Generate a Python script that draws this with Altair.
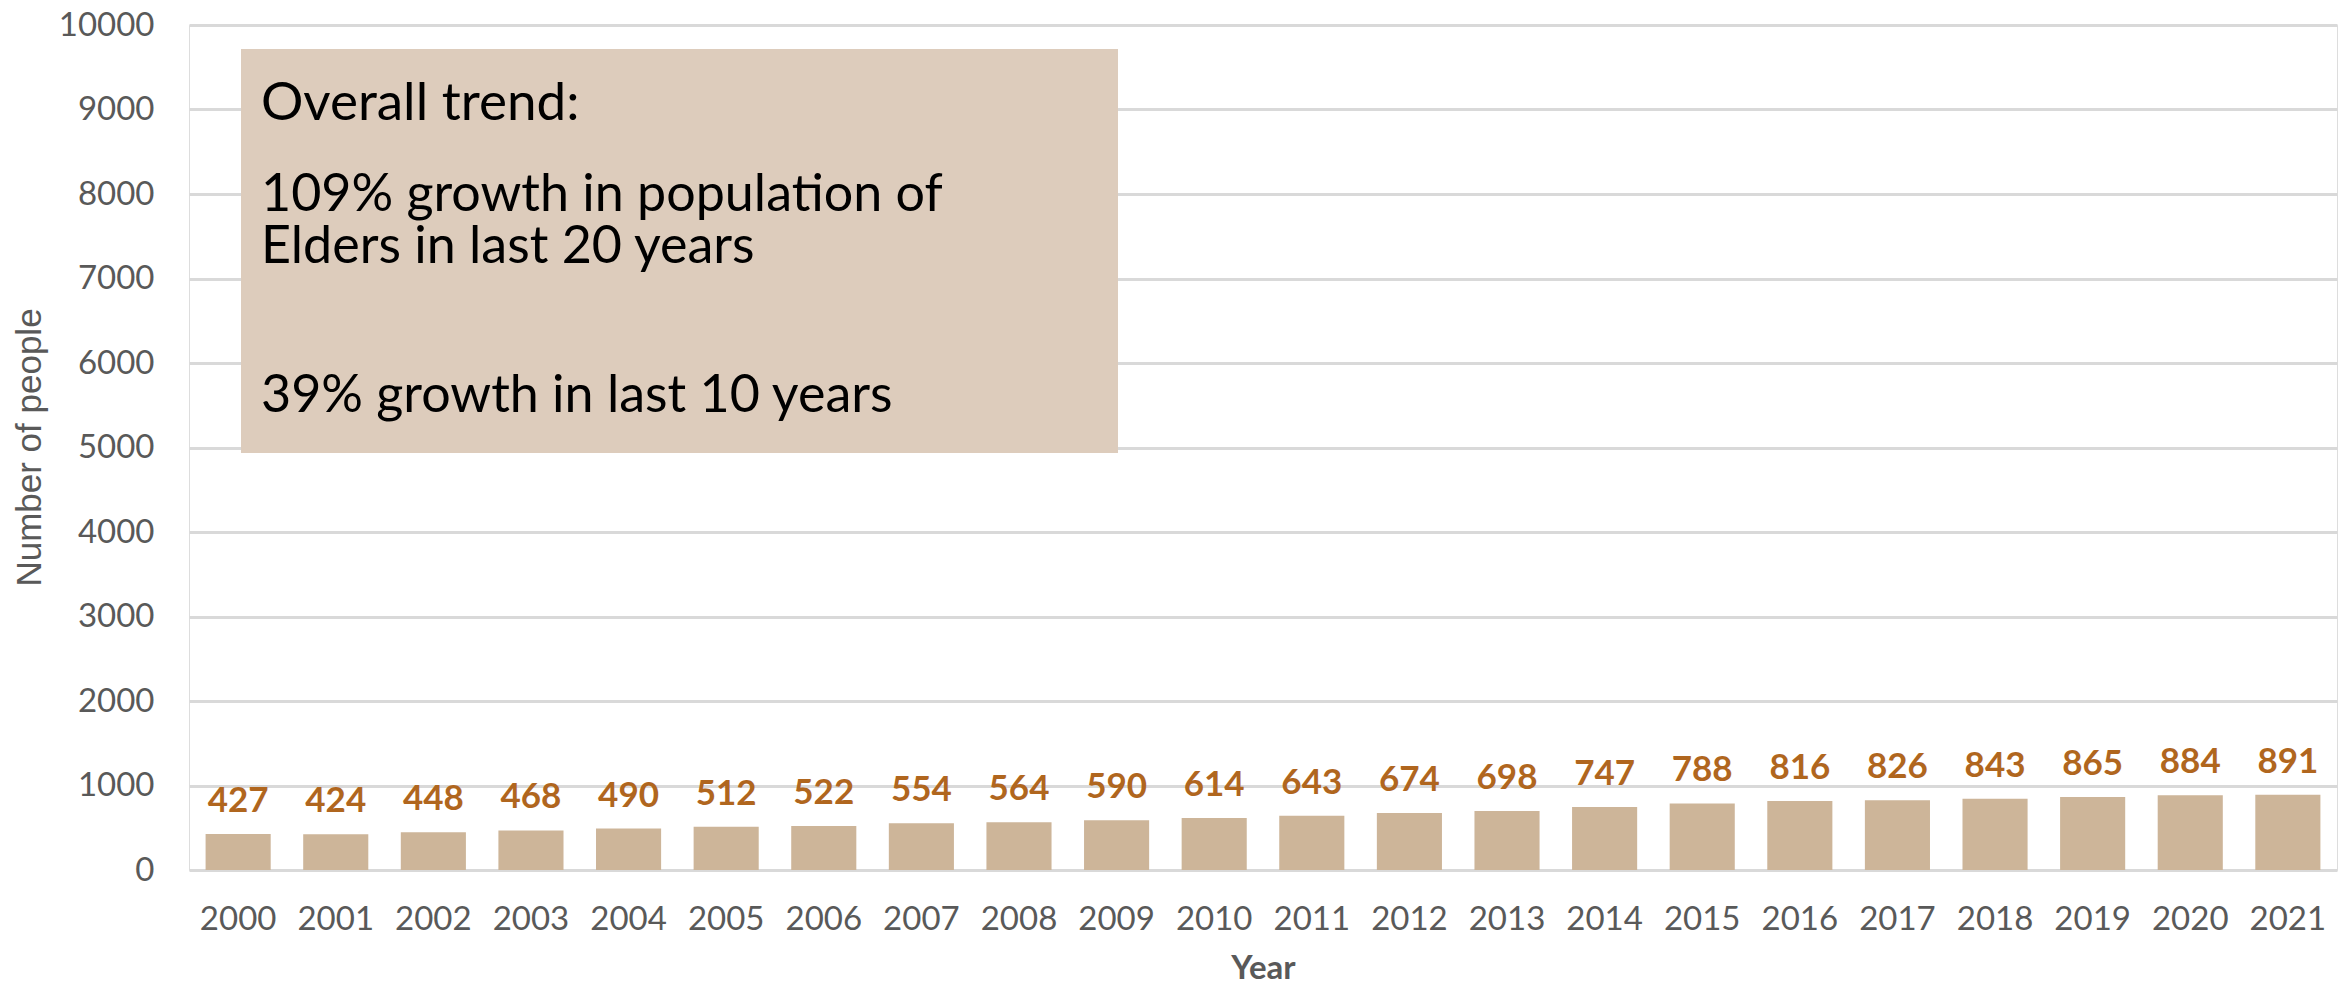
import altair as alt
import pandas as pd

years = [str(y) for y in range(2000, 2022)]
people = [427, 424, 448, 468, 490, 512, 522, 554, 564, 590, 614, 643,
          674, 698, 747, 788, 816, 826, 843, 865, 884, 891]

box_lines = ["Overall trend:", "109% growth in population of",
             "Elders in last 20 years", "39% growth in last 10 years"]
box_sizes = [53, 52, 52, 52]
box_baselines = [95, 186, 238, 387]

df = pd.DataFrame({"Year": years, "People": people})
notes = pd.DataFrame({"line": box_lines, "size": box_sizes, "yy": box_baselines})

FONT = "Lato"
GRAY = "#595959"

x_enc = alt.X("Year:N", sort=years,
              scale=alt.Scale(paddingInner=0.333, paddingOuter=0.17),
              axis=alt.Axis(title="Year", labelAngle=0, labelFont=FONT, labelFontSize=33,
                            labelColor=GRAY, labelPadding=33, ticks=False, domain=False,
                            titleFont=FONT, titleFontSize=33, titleFontWeight="bold",
                            titleColor=GRAY, titlePadding=16))
y_enc = alt.Y("People:Q", scale=alt.Scale(domain=[0, 10000], nice=False),
              axis=alt.Axis(title="Number of people", values=list(range(0, 10001, 1000)),
                            format="d",
                            labelFont=FONT, labelFontSize=33, labelColor=GRAY,
                            labelPadding=35, ticks=False, domain=False,
                            gridColor="#D9D9D9", gridWidth=3,
                            titleFont="Liberation Sans", titleFontSize=35,
                            titleFontWeight="normal", titleColor=GRAY,
                            titleX=-160, titleY=422, titleAngle=-90,
                            titleAlign="center", titleBaseline="middle"))

base = alt.Chart(df)
bars = base.mark_bar(color="#CDB599").encode(x=x_enc, y=y_enc)
labels = base.mark_text(font=FONT, fontSize=35, fontWeight="bold", color="#B0661E",
                        baseline="alphabetic", dy=-22).encode(
    x=alt.X("Year:N", sort=years), y="People:Q", text="People:Q")

box = alt.Chart(pd.DataFrame({"a": [0]})).mark_rect(color="#DDCCBC").encode(
    x=alt.value(52), x2=alt.value(929), y=alt.value(24), y2=alt.value(428))

box_text = alt.Chart(notes).mark_text(font=FONT, align="left", baseline="alphabetic",
                                      color="black").encode(
    x=alt.value(72), y=alt.Y("yy:Q", scale=None), text="line:N",
    size=alt.Size("size:Q", scale=None, legend=None))

chart = alt.layer(bars, labels, box, box_text).properties(
    width=2148, height=845,
    autosize=alt.AutoSizeParams(type="none"),
    padding={"left": 189, "top": 25, "right": 14, "bottom": 115},
).configure_view(stroke=None).configure(background="white")

chart.save("out.html", embed_options={"renderer": "svg", "actions": False})
